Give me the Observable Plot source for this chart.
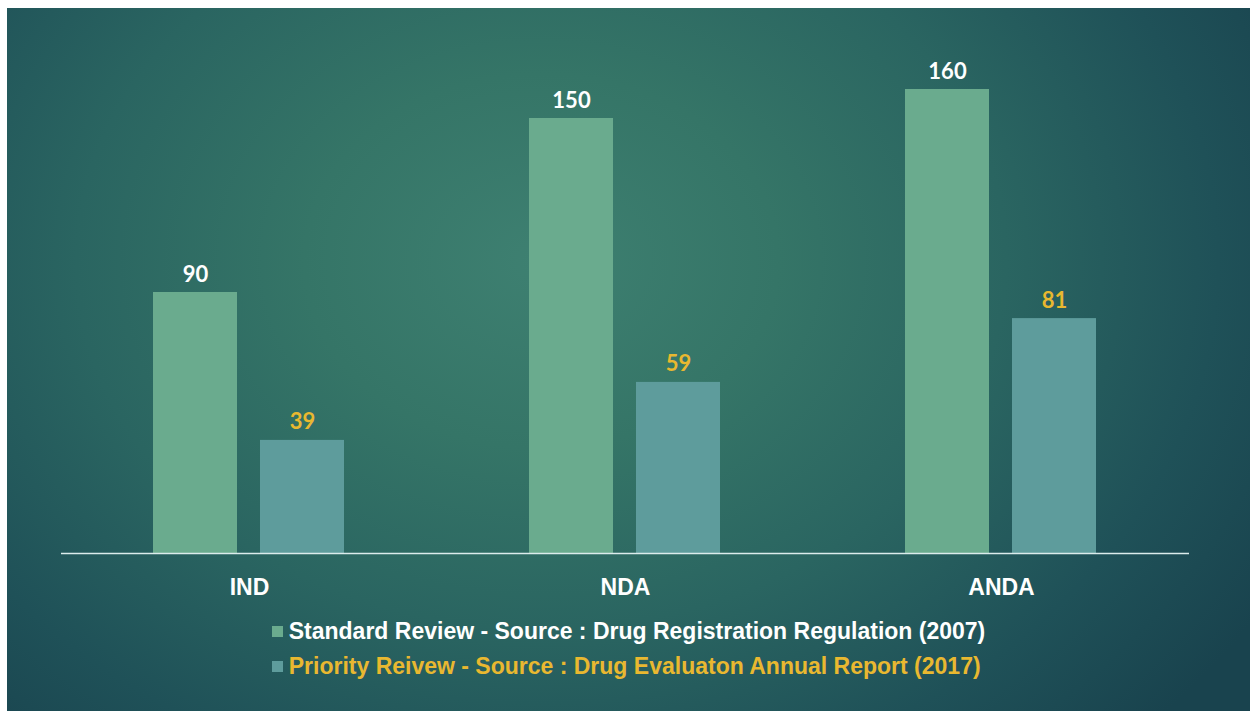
<!DOCTYPE html>
<html>
<head>
<meta charset="utf-8">
<script src="https://cdn.jsdelivr.net/npm/d3@7"></script>
<script src="https://cdn.jsdelivr.net/npm/@observablehq/plot@0.6"></script>
<style>
  html, body { margin: 0; padding: 0; background: #ffffff; }
  #frame {
    position: absolute; left: 7px; top: 8px; width: 1243px; height: 703px;
    background: radial-gradient(ellipse 68% 95% at 43% 36%, #3e8071 0%, #357567 28%, #2a6561 55%, #1f5158 80%, #19434e 100%);
    overflow: hidden;
  }
  #legend { display: flex; justify-content: center; margin-top: -4px; }
  #legend .inner { display: inline-block; }
  .item { display: flex; align-items: center; height: 35px; font-family: "Liberation Sans", Arial, sans-serif; font-weight: bold; font-size: 23px; }
  .sw { width: 11px; height: 11px; margin-right: 6px; }
</style>
</head>
<body>
<div id="frame"><div id="chart"></div><div id="legend"><div class="inner"></div></div></div>
<script>
const categories = ["IND", "NDA", "ANDA"];
const seriesKeys = ["Standard", "Priority"];
const seriesLabels = [
  "Standard Review - Source : Drug Registration Regulation (2007)",
  "Priority Reivew - Source : Drug Evaluaton Annual Report (2017)"
];
const standardValues = [90, 150, 160];
const priorityValues = [39, 59, 81];
const barColors = ["#6aab8e", "#5e9c9c"];
const labelColors = ["#ffffff", "#e9b830"];

const rows = categories.flatMap((c, i) => [
  {cat: c, series: seriesKeys[0], value: standardValues[i]},
  {cat: c, series: seriesKeys[1], value: priorityValues[i]}
]);

const chart = Plot.plot({
  width: 1243,
  height: 610,
  marginLeft: 53,
  marginRight: 60,
  marginTop: 23,
  marginBottom: 65,
  style: {background: "transparent", color: "white", fontSize: "23px", fontWeight: "bold", fontFamily: "'Liberation Sans', Arial, sans-serif", overflow: "visible"},
  fx: {domain: categories, padding: 0, label: null, tickSize: 0, tickPadding: 25},
  x: {domain: seriesKeys, paddingInner: 0.213, paddingOuter: 0.86, axis: null},
  y: {domain: [0, 180], axis: null},
  color: {domain: seriesKeys, range: barColors},
  marks: [
    Plot.barY(rows, {fx: "cat", x: "series", y: "value", fill: "series"}),
    Plot.text(rows, {
      fx: "cat", x: "series", y: "value",
      text: d => String(d.value),
      dy: -11, lineAnchor: "bottom",
      fill: d => labelColors[seriesKeys.indexOf(d.series)],
      fontSize: 22, fontWeight: "bold", fontFamily: "Lato, 'DejaVu Sans', sans-serif"
    }),
    Plot.ruleY([0], {stroke: "#dcecec", strokeWidth: 1.6})
  ]
});
document.getElementById("chart").appendChild(chart);

const inner = d3.select("#legend .inner");
seriesLabels.forEach((lab, i) => {
  const it = inner.append("div").attr("class", "item").style("color", labelColors[i]);
  it.append("div").attr("class", "sw").style("background", barColors[i]);
  it.append("span").text(lab);
});
</script>
</body>
</html>
